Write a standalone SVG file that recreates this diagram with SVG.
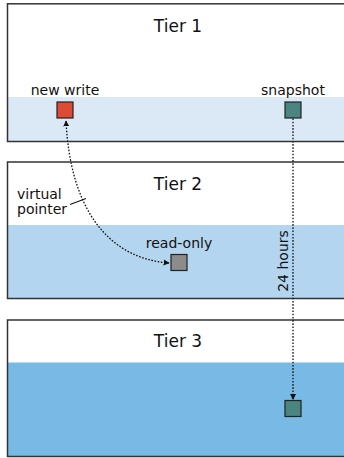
<svg xmlns="http://www.w3.org/2000/svg" width="344" height="458" viewBox="0 0 344 458">
<style>
.frame{fill:none;stroke:#333;stroke-width:1.5}
.title{font-family:"DejaVu Sans",sans-serif;font-size:17px;fill:#111;text-anchor:middle}
.lbl{font-family:"DejaVu Sans",sans-serif;font-size:14px;fill:#111}
.box{stroke:#222;stroke-width:1.2}
.dot{fill:none;stroke:#111;stroke-width:1.3;stroke-dasharray:1.6 1.6}
</style>
<defs>
<marker id="ah" viewBox="0 0 10 10" refX="9" refY="5" markerWidth="6" markerHeight="7" orient="auto-start-reverse" markerUnits="userSpaceOnUse">
<path d="M0,0 L10,5 L0,10 z" fill="#111"/>
</marker>
</defs>
<rect width="344" height="458" fill="#fff"/>
<g id="tier1">
<rect x="7.5" y="97" width="340" height="44.5" fill="#dbe9f6"/>
<rect class="frame" x="7.5" y="3.8" width="340" height="137.7"/>
<text class="title" x="178" y="32">Tier 1</text>
</g>
<g id="tier2">
<rect x="7.5" y="225" width="340" height="73.5" fill="#b3d5ef"/>
<rect class="frame" x="7.5" y="162" width="340" height="136.5"/>
<text class="title" x="178" y="190">Tier 2</text>
</g>
<g id="tier3">
<rect x="7.5" y="362.5" width="340" height="94" fill="#78b9e5"/>
<rect class="frame" x="7.5" y="320" width="340" height="136.5"/>
<text class="title" x="178" y="347">Tier 3</text>
</g>
<g id="new-write">
<rect class="box" x="57" y="102" width="16" height="16" fill="#df4a37"/>
<text class="lbl" x="65" y="95" text-anchor="middle">new write</text>
</g>
<g id="snapshot">
<rect class="box" x="285" y="102" width="16" height="16" fill="#4a8580"/>
<text class="lbl" x="293" y="95" text-anchor="middle">snapshot</text>
</g>
<g id="read-only">
<rect class="box" x="171" y="254.5" width="16" height="16" fill="#8c8c8c"/>
<text class="lbl" x="179" y="248" text-anchor="middle">read-only</text>
</g>
<g id="snapshot-tier3">
<rect class="box" x="285" y="400.5" width="16" height="16" fill="#4a8580"/>
</g>
<g id="virtual-pointer-label">
<text class="lbl" x="17" y="199">virtual</text>
<text class="lbl" x="17" y="214">pointer</text>
<line x1="70" y1="204.5" x2="86" y2="198.5" stroke="#111" stroke-width="1.1"/>
</g>
<g id="connectors">
<path class="dot" d="M66,121 C70,205 105,258 169,263" marker-start="url(#ah)" marker-end="url(#ah)"/>
<path class="dot" d="M293,118.5 L293,399.5" marker-end="url(#ah)"/>
<text class="lbl" transform="translate(288,261) rotate(-90)" text-anchor="middle">24 hours</text>
</g>
</svg>
